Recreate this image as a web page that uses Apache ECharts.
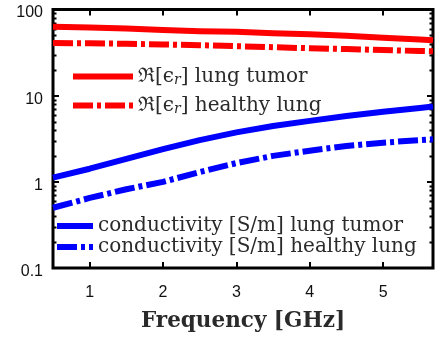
<!DOCTYPE html>
<html>
<head>
<meta charset="utf-8">
<script src="https://cdn.jsdelivr.net/npm/echarts@6/dist/echarts.min.js"></script>
<style>html,body{margin:0;padding:0;background:#fff}#c{width:437px;height:337px}</style>
</head>
<body>
<div id="c"></div>
<script>
// ---- data ----
var freqGHz = [0.5, 1.0, 1.5, 2.0, 2.5, 3.0, 3.5, 4.0, 4.5, 5.0, 5.5, 5.68];
var permTumor = [63, 62, 60, 58, 56, 55, 53, 51.5, 49.5, 47, 45, 44];
var permHealthy = [40.8, 40.5, 40, 39.3, 38.5, 37.5, 36.5, 35.5, 34.8, 33.8, 33, 32.7];
var condTumor = [1.12, 1.42, 1.85, 2.4, 3.05, 3.75, 4.45, 5.1, 5.8, 6.5, 7.2, 7.5];
var condHealthy = [0.50, 0.65, 0.82, 1.0, 1.3, 1.65, 2.0, 2.3, 2.6, 2.85, 3.05, 3.12];
var yTickLabels = ['0.1', '1', '10', '100'];
var xTickLabels = ['1', '2', '3', '4', '5'];
var legendTexts = {
  permTumor: '{a|ℜ[ϵ}{s|r}{a|] lung tumor}',
  permHealthy: '{a|ℜ[ϵ}{s|r}{a|] healthy lung}',
  condTumor: '{a|conductivity [S/m] lung tumor}',
  condHealthy: '{a|conductivity [S/m] healthy lung}'
};

function pairs(xs, ys) { return xs.map(function (x, i) { return [x, ys[i]]; }); }

var DASHDOT = [20, 4, 4, 4];
var serif = '"DejaVu Serif", serif';
var sans = '"Liberation Sans", Arial, sans-serif';
var chart = echarts.init(document.getElementById('c'), null, {renderer: 'canvas'});

function mkSeries(name, data, color, dash) {
  return {
    name: name, type: 'line', data: data, showSymbol: false, symbol: 'none',
    xAxisIndex: 0, yAxisIndex: 0, animation: false, clip: true,
    lineStyle: {width: 6, color: color, type: dash, cap: 'butt', join: 'round'},
    itemStyle: {color: color}
  };
}

var richText = {
  a: {fontFamily: serif, fontSize: 20, lineHeight: 22, color: '#2a2a2a'},
  s: {fontFamily: serif, fontSize: 14, lineHeight: 14, color: '#2a2a2a', fontStyle: 'italic', padding: [7, 0, 0, 0]}
};
var hiddenSymbol = {color: 'rgba(0,0,0,0)', borderColor: 'rgba(0,0,0,0)', borderWidth: 0, opacity: 0};

var option = {
  animation: false,
  backgroundColor: '#fff',
  grid: {left: 53, right: 4, top: 9.5, bottom: 68.5, show: true, borderColor: '#000', borderWidth: 3, backgroundColor: 'transparent'},
  xAxis: [{
    type: 'value', min: 0.5, max: 5.68, position: 'bottom', splitNumber: 5,
    axisLine: {show: false}, splitLine: {show: false},
    axisTick: {show: true, inside: true, length: 6, lineStyle: {color: '#000', width: 2}},
    axisLabel: {
      margin: 17, fontFamily: sans, fontSize: 16, color: '#111',
      showMinLabel: false, showMaxLabel: false,
      formatter: function (v) { var s = String(v); return xTickLabels.indexOf(s) >= 0 ? s : ''; }
    },
    name: 'Frequency [GHz]', nameLocation: 'middle', nameGap: 42,
    nameTextStyle: {fontFamily: serif, fontWeight: 'bold', fontSize: 21.5, color: '#2a2a2a'}
  }, {
    type: 'value', min: 0.5, max: 5.68, position: 'top', splitNumber: 5,
    axisLine: {show: false}, splitLine: {show: false}, axisLabel: {show: false},
    axisTick: {show: true, inside: true, length: 6, lineStyle: {color: '#000', width: 2}}
  }],
  yAxis: [{
    type: 'log', logBase: 10, min: 0.1, max: 100, position: 'left',
    axisLine: {show: false}, splitLine: {show: false}, minorTick: {show: false},
    axisTick: {show: true, inside: true, length: 6, lineStyle: {color: '#000', width: 2}},
    axisLabel: {
      margin: 10, fontFamily: sans, fontSize: 16, color: '#111',
      verticalAlign: 'top', lineHeight: 7,
      formatter: function (v) { var s = String(+v.toPrecision(3)); return yTickLabels.indexOf(s) >= 0 ? s : ''; }
    }
  }, {
    type: 'log', logBase: 10, min: 0.1, max: 100, position: 'right',
    axisLine: {show: false}, splitLine: {show: false}, axisLabel: {show: false},
    axisTick: {show: true, inside: true, length: 6, lineStyle: {color: '#000', width: 2}}
  }],
  legend: [{
    data: ['permTumor', 'permHealthy'], orient: 'vertical', left: 70, top: 66, padding: 0,
    itemWidth: 60, itemHeight: 14, itemGap: 8,
    formatter: function (n) { return legendTexts[n]; },
    textStyle: {rich: richText},
    itemStyle: hiddenSymbol,
    lineStyle: {width: 6}, selectedMode: false
  }, {
    data: ['condTumor', 'condHealthy'], orient: 'vertical', left: 54, top: 216, padding: 0,
    itemWidth: 36, itemHeight: 14, itemGap: 1,
    formatter: function (n) { return legendTexts[n]; },
    textStyle: {rich: richText},
    itemStyle: hiddenSymbol,
    lineStyle: {width: 6}, selectedMode: false
  }],
  series: [
    mkSeries('permTumor', pairs(freqGHz, permTumor), '#ff0000', 'solid'),
    mkSeries('permHealthy', pairs(freqGHz, permHealthy), '#ff0000', DASHDOT),
    mkSeries('condTumor', pairs(freqGHz, condTumor), '#0000ff', 'solid'),
    mkSeries('condHealthy', pairs(freqGHz, condHealthy), '#0000ff', DASHDOT)
  ]
};
chart.setOption(option);

// minor log ticks, positioned through the axis scale
var minorVals = [];
[0.1, 1, 10].forEach(function (d) { for (var k = 2; k <= 9; k++) minorVals.push(d * k); });
var xl = chart.convertToPixel({xAxisIndex: 0}, 0.5);
var xr = chart.convertToPixel({xAxisIndex: 0}, 5.68);
var g = [];
minorVals.forEach(function (v) {
  var y = Math.round(chart.convertToPixel({yAxisIndex: 0}, v)) + 0.5;
  g.push({type: 'line', shape: {x1: xl, y1: y, x2: xl + 3.5, y2: y}, style: {stroke: '#000', lineWidth: 2}, silent: true});
  g.push({type: 'line', shape: {x1: xr - 3.5, y1: y, x2: xr, y2: y}, style: {stroke: '#000', lineWidth: 2}, silent: true});
});
chart.setOption({graphic: g});
</script>
</body>
</html>
